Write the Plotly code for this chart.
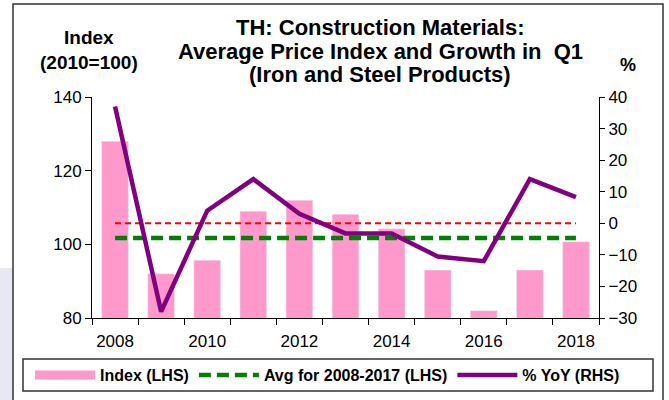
import plotly.graph_objects as go

years = [2008, 2009, 2010, 2011, 2012, 2013, 2014, 2015, 2016, 2017, 2018]
index_values = [128, 92, 95.7, 109, 112, 108.2, 104.2, 93, 82, 93, 100.7]
yoy_values = [37, -28, 4, 14, 3, -3.2, -3.2, -10.5, -12, 14, 8.3]
x_tick_labels = ["2008", "2010", "2012", "2014", "2016", "2018"]
x_tick_vals = [2008, 2010, 2012, 2014, 2016, 2018]
title_lines = ["TH: Construction Materials:", "Average Price Index and Growth in  Q1",
               "(Iron and Steel Products)"]

avg_years = [y for y in years if 2008 <= y <= 2017]
avg_value = sum(v for y, v in zip(years, index_values) if y in avg_years) / len(avg_years)

FONT = "Liberation Sans, Arial, sans-serif"
PINK = "#FF99CC"
GREEN = "#008000"
PURPLE = "#800080"

fig = go.Figure()

fig.add_trace(go.Bar(x=years, y=index_values, marker_color=PINK, width=0.58,
                     showlegend=False, name="Index (LHS)", yaxis="y"))
# legend swatch for the bars
fig.add_trace(go.Scatter(x=[None], y=[None], mode="lines", name="<b>Index (LHS)</b>",
                         line=dict(color=PINK, width=9), yaxis="y"))
fig.add_trace(go.Scatter(x=[years[0], years[-1]], y=[avg_value, avg_value], mode="lines",
                         name="<b>Avg for 2008-2017 (LHS)</b>",
                         line=dict(color=GREEN, width=4.5, dash="12px,6px"), yaxis="y"))
fig.add_trace(go.Scatter(x=[years[0], years[-1]], y=[0, 0], mode="lines",
                         showlegend=False, name="zero",
                         line=dict(color="#FF0000", width=2, dash="6px,4px"), yaxis="y2"))
fig.add_trace(go.Scatter(x=years, y=yoy_values, mode="lines", name="<b>% YoY (RHS)</b>",
                         line=dict(color=PURPLE, width=4.5), yaxis="y2"))

L, R, T, B = 92, 70, 97, 82
W, H = 669, 400
pw, ph = W - L - R, H - T - B

def px_x(x):
    return (x - L) / pw

def px_y(y):
    return (H - B - y) / ph

title_ann = [
    dict(text="<b>%s</b>" % line, xref="paper", yref="paper", x=px_x(380), y=px_y(cy),
         xanchor="center", yanchor="middle", showarrow=False,
         font=dict(family=FONT, size=22, color="black"))
    for line, cy in zip(title_lines, [27, 51, 75])
]

fig.update_layout(
    width=W, height=H,
    margin=dict(l=L, r=R, t=T, b=B, autoexpand=False),
    paper_bgcolor="white", plot_bgcolor="white",
    font=dict(family=FONT, color="black", size=17),
    xaxis=dict(range=[2007.5, 2018.5], tickvals=x_tick_vals, ticktext=x_tick_labels,
               ticks="", showline=True, linecolor="black", linewidth=1, showgrid=False,
               zeroline=False, tickfont=dict(size=17), ticklabelstandoff=8,
               minor=dict(tick0=2007.5, dtick=1, ticks="outside", ticklen=6,
                          tickcolor="black", showgrid=False)),
    yaxis=dict(range=[80, 140], dtick=20, ticks="outside", ticklen=6, tickcolor="black",
               showline=True, linecolor="black", linewidth=1, showgrid=False,
               zeroline=False, tickfont=dict(size=17)),
    yaxis2=dict(range=[-30, 40], dtick=10, ticks="outside", ticklen=5, tickcolor="black",
                showline=True, linecolor="black", linewidth=1, showgrid=False,
                zeroline=False, overlaying="y", side="right", tickfont=dict(size=17)),
    legend=dict(orientation="h", x=px_x(30), xanchor="left", y=px_y(375), yanchor="middle",
                font=dict(family=FONT, size=16, color="black"), bgcolor="rgba(0,0,0,0)",
                borderwidth=0, itemwidth=60, traceorder="normal"),
    bargap=0.42,
    shapes=[
        dict(type="rect", xref="paper", yref="paper", layer="below",
             x0=px_x(0), x1=px_x(13), y0=px_y(402), y1=px_y(268),
             fillcolor="#E8E8F2", line=dict(width=0)),
        dict(type="rect", xref="paper", yref="paper",
             x0=px_x(13), x1=px_x(663), y0=px_y(410), y1=px_y(4),
             line=dict(color="#333333", width=1.5), fillcolor="rgba(0,0,0,0)"),
        dict(type="rect", xref="paper", yref="paper",
             x0=px_x(23), x1=px_x(653), y0=px_y(391), y1=px_y(359),
             line=dict(color="#333333", width=1.5), fillcolor="rgba(0,0,0,0)"),
    ],
    annotations=title_ann + [
        dict(text="<b>Index<br>(2010=100)</b>", xref="paper", yref="paper",
             x=px_x(89), y=px_y(50), xanchor="center", yanchor="middle", showarrow=False,
             font=dict(family=FONT, size=19, color="black")),
        dict(text="<b>%</b>", xref="paper", yref="paper",
             x=px_x(628), y=px_y(65), xanchor="center", yanchor="middle", showarrow=False,
             font=dict(family=FONT, size=18, color="black")),
    ],
)

fig.write_html("out.html", config={"displayModeBar": False},
               post_script="document.body.style.margin='0';document.body.style.padding='0';")
